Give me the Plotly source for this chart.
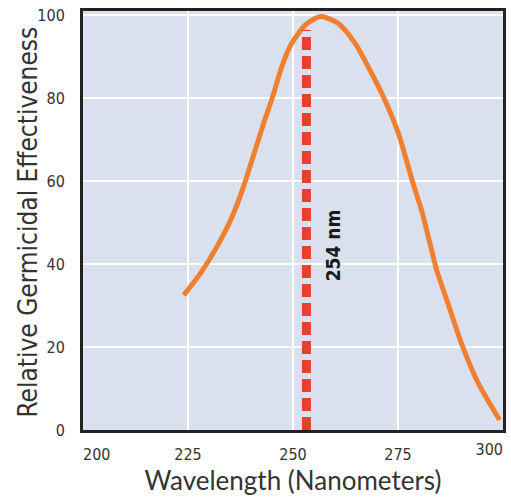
import plotly.graph_objects as go

wavelength = [224.0, 228.0, 231.9, 235.5, 238.2, 241.0, 243.0, 245.4, 247.3, 249.7,
              252.9, 256.1, 257.2, 260.8, 264.8, 268.7, 271.9, 275.1, 278.6, 280.6,
              283.0, 284.2, 286.9, 290.1, 294.1, 299.2]
effectiveness = [32.5, 37.8, 44.2, 51.4, 58.6, 67.5, 73.9, 81.1, 87.5, 93.2,
                 97.6, 99.6, 99.6, 98.0, 93.2, 86.0, 79.5, 71.5, 59.4, 53.0,
                 43.4, 38.6, 30.5, 20.9, 11.3, 2.4]

marker_x = [253.2, 253.2]
marker_y = [0, 96.4]
marker_label = "254 nm"
label_pos = (259.6, 44.6)

x_ticks = [200, 225, 250, 275]
x_ticktext = ["\u2007\u2007\u2007200", "225", "250", "275"]
x_end_tick = [300]
y_ticks = [0, 20, 40, 60, 80, 100]
x_range = [200, 300]
y_range = [0, 101]
y_title = "Relative Germicidal Effectiveness"

cond = "DejaVu Sans Condensed, Liberation Sans Narrow, Arial Narrow, sans-serif"
tickfont = dict(family=cond, size=16, color="#333333")

fig = go.Figure()
fig.add_trace(go.Scatter(x=marker_x, y=marker_y, mode="lines", xaxis="x2",
                         line=dict(color="#e8402f", width=9, dash="13px,6px"),
                         hoverinfo="skip", showlegend=False))
fig.add_trace(go.Scatter(x=wavelength, y=effectiveness, mode="lines",
                         line=dict(color="#f08030", width=5, shape="spline", smoothing=0.7),
                         showlegend=False))

fig.add_annotation(x=label_pos[0], y=label_pos[1], text=f"<b>{marker_label}</b>",
                   textangle=-90, showarrow=False,
                   font=dict(family="DejaVu Sans Condensed, Liberation Sans, sans-serif", size=19, color="#1a1a1a"))

fig.add_annotation(x=0, y=0.5, xref="paper", yref="paper", xshift=-56, yshift=-2,
                   xanchor="center", yanchor="middle", text=y_title, textangle=-90,
                   showarrow=False, font=dict(family=cond, size=26, color="#333333"))

fig.update_layout(
    width=511, height=497,
    margin=dict(l=83, r=8, t=11, b=67),
    paper_bgcolor="white",
    plot_bgcolor="#d9e1ee",
    xaxis=dict(range=x_range, tickvals=x_ticks, ticktext=x_ticktext,
               showgrid=True, gridcolor="white", gridwidth=1.5, zeroline=False,
               showline=True, linecolor="#222222", linewidth=3, mirror=True,
               ticks="", ticklabelstandoff=8, automargin=False, ticklabeloverflow="allow",
               tickfont=tickfont,
               title=dict(text="Wavelength (Nanometers)", standoff=4,
                          font=dict(family="Lato, Open Sans, sans-serif", size=26, color="#333333"))),
    xaxis2=dict(range=x_range, tickvals=x_end_tick, overlaying="x", anchor="y", side="bottom",
                showgrid=False, zeroline=False, showline=False, ticks="",
                ticklabelposition="outside left", ticklabelstandoff=8,
                automargin=False, ticklabeloverflow="allow", tickfont=tickfont),
    yaxis=dict(range=y_range, tickvals=y_ticks,
               showgrid=True, gridcolor="white", gridwidth=1.5, zeroline=False,
               showline=True, linecolor="#222222", linewidth=3, mirror=True,
               ticks="", ticklabelstandoff=12, automargin=False, ticklabeloverflow="allow",
               tickfont=tickfont),
)

fig.write_html("out.html", config={"displayModeBar": False},
               post_script="document.body.style.margin='0';")
